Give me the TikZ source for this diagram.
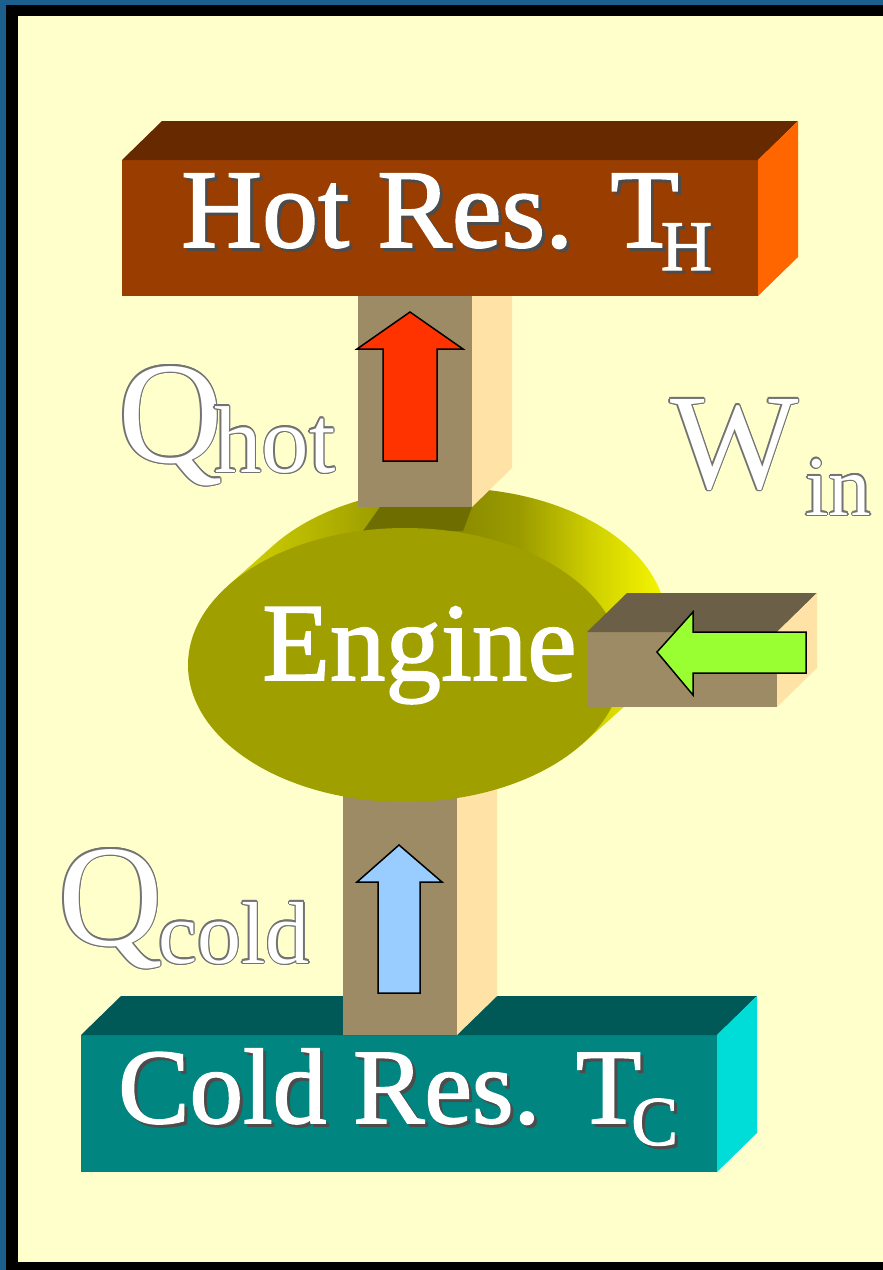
\documentclass[tikz,border=0pt]{standalone}
\usepackage{fontspec}
\setmainfont{Liberation Serif}
\newfontfamily\plump{Liberation Serif}[FakeBold=1.5]
\definecolor{frame}{HTML}{1C5F8C}
\definecolor{paper}{HTML}{FFFFCC}
\definecolor{hotfront}{HTML}{993D00}
\definecolor{hottop}{HTML}{662900}
\definecolor{hotside}{HTML}{FF6600}
\definecolor{coldfront}{HTML}{008580}
\definecolor{coldtop}{HTML}{005956}
\definecolor{coldside}{HTML}{00DDD9}
\definecolor{pipefront}{HTML}{9C8B65}
\definecolor{pipetop}{HTML}{6B5F47}
\definecolor{pipeside}{HTML}{FFE3A6}
\definecolor{engface}{HTML}{9F9F00}
\definecolor{rimA}{HTML}{D4D400}
\definecolor{rimB}{HTML}{ACAC00}
\definecolor{rimC}{HTML}{858500}
\definecolor{rimD}{HTML}{9A9A00}
\definecolor{rimE}{HTML}{D0D000}
\definecolor{rimF}{HTML}{F8F800}
\definecolor{rimdark}{HTML}{6E6E00}
\definecolor{hotarrow}{HTML}{FF3300}
\definecolor{coldarrow}{HTML}{99CCFF}
\definecolor{workarrow}{HTML}{99FF33}
\pgfdeclarehorizontalshading{enginerim}{100bp}{color(0bp)=(rimA); color(25bp)=(rimA);
  color(37bp)=(rimB); color(47bp)=(rimC); color(56bp)=(rimD); color(64bp)=(rimE);
  color(72bp)=(rimF); color(100bp)=(rimF)}
\newcommand{\fsize}[1]{\fontsize{#1}{#1}\selectfont}
\newcommand{\slab}[7]% left, top, right, bottom, front, top face, side face
{\fill[#5] (#1,#2) rectangle (#3,#4);
 \fill[#6] (#1,#2) -- ++(40,-39) -- (#3+40,#2-39) -- (#3,#2) -- cycle;
 \fill[#7] (#3,#2) -- ++(40,-39) -- (#3+40,#4-39) -- (#3,#4) -- cycle;
}
\newcommand{\ghost}[3]% name, base point, text
{\foreach \a in {0,30,...,330}
   \node[ghostrim] (#1rim\a) at ([shift={(\a:1.3)}]#2) {#3};
 \node[ghosttext] (#1) at (#2) {#3};
}

\begin{document}
\begin{tikzpicture}[x=1pt,y=-1pt,
  ghostrim/.style={anchor=base west,inner sep=0pt,text=black!55},
  ghosttext/.style={anchor=base west,inner sep=0pt,text=white},
  shadowtext/.style={anchor=base west,inner sep=0pt,text=black!70,font=\plump},
  restext/.style={anchor=base west,inner sep=0pt,text=white,font=\plump},
  blockarrow/.style={draw=black,line width=1.5pt,line join=miter}]
\useasboundingbox (0,0) rectangle (883,1270);
% frame
\fill[frame] (0,0) rectangle (883,1270);
\fill[black] (6,5) rectangle (883,1270);
\fill[paper] (18,16) rectangle (883,1262);
% engine rim
\shade[shading=enginerim]
  (228.1,585.6) -- (273.1,545.6)
  arc[start angle=215.4, end angle=395.4, x radius=217, y radius=137]
  -- (581.9,744.4) -- cycle;
\fill[rimdark] (380,507) -- (472,507) -- (463,531) -- (363,531) -- cycle;
% pipes and reservoirs
\slab{358}{280}{472}{507}{pipefront}{pipetop}{pipeside}
\slab{122}{160}{758}{296}{hotfront}{hottop}{hotside}
\slab{81}{1035}{717}{1172}{coldfront}{coldtop}{coldside}
\slab{343}{700}{457}{1035}{pipefront}{pipetop}{pipeside}
% engine face
\fill[engface] (405,665) ellipse [x radius=217, y radius=137];
\slab{587}{632}{777}{707}{pipefront}{pipetop}{pipeside}
% block arrows
\filldraw[blockarrow, fill=hotarrow] (383,461) -- (383,349) -- (357,349) -- (410,312)
  -- (463,349) -- (437,349) -- (437,461) -- cycle;
\filldraw[blockarrow, fill=coldarrow] (378,993) -- (378,882) -- (357,882) -- (399,845)
  -- (442,882) -- (420,882) -- (420,993) -- cycle;
\filldraw[blockarrow, fill=workarrow] (806,632) -- (693,632) -- (693,612) -- (657,652)
  -- (693,695) -- (693,673) -- (806,673) -- cycle;
% labels
\node[shadowtext] (hotshadow) at (184,250) {\fsize{112}Hot Res. T\kern-18pt\raisebox{-23pt}{\fsize{71}H}};
\node[restext] (hotlabel) at (181,247) {\fsize{112}Hot Res. T\kern-18pt\raisebox{-23pt}{\fsize{71}H}};
\node[shadowtext] (coldshadow) at (121,1126) {\fsize{107}Cold Res. T\kern-10pt\raisebox{-22pt}{\fsize{70}C}};
\node[restext] (coldlabel) at (118,1123) {\fsize{107}Cold Res. T\kern-10pt\raisebox{-22pt}{\fsize{70}C}};
\node[restext] (engine) at (262,680) {\fsize{111}Engine};
\ghost{qhot}{118,462}{\fsize{145}Q}
\ghost{qhotsub}{214,472}{\fsize{95}hot}
\ghost{win}{670,488}{\fsize{136}W}
\ghost{winsub}{805,515}{\fsize{85}in}
\ghost{qcold}{58,945}{\fsize{145}Q}
\ghost{qcoldsub}{158,963}{\fsize{88}cold}
\end{tikzpicture}
\end{document}
